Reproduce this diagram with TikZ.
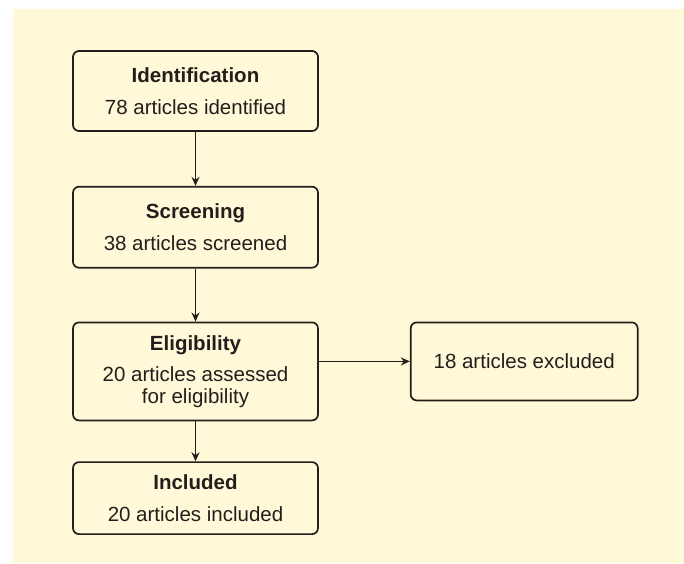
\documentclass[tikz,border=0pt]{standalone}
\usepackage{fontspec}
\setmainfont{Liberation Sans}
\usetikzlibrary{positioning, arrows.meta}
\definecolor{paper}{RGB}{255,249,218}
\definecolor{ink}{RGB}{34,30,26}
\tikzset{
stage/.style={draw=ink, line width=1.7pt, rounded corners=6pt, align=center, minimum width=245pt, inner sep=0pt, text=ink, font=\fontsize{20.5}{22}\selectfont}, % the boxes of the flow
flow/.style={-{Stealth[length=9pt, width=8pt]}, draw=ink, line width=1.6pt}, % arrows between the boxes
}
\newcommand{\stagetext}[2]{\textbf{#1}\\[10pt]#2}

\begin{document}
\begin{tikzpicture}[x=1pt, y=-1pt]
  \useasboundingbox (0,0) rectangle (684,563);
  \fill[paper] (13,9) rectangle (684,563);

  \node[stage, minimum height=80pt] (ident) at (195.5,91) {\stagetext{Identification}{78 articles identified}};
  \node[stage, minimum height=81pt, below=54pt of ident] (screen) {\stagetext{Screening}{38 articles screened}};
  \node[stage, minimum height=98pt, below=53pt of screen] (elig) {\textbf{Eligibility}\\[9pt]20 articles assessed\\for eligibility};
  \node[stage, minimum height=72pt, below=40pt of elig] (incl) {\stagetext{Included}{20 articles included}};
  \node[stage, minimum width=227pt, minimum height=78pt, below right=0pt and 91pt of elig.north east] (excl) {18 articles excluded};

  \draw[flow] (ident) -- (screen);
  \draw[flow] (screen) -- (elig);
  \draw[flow] (elig) -- (incl);
  \draw[flow] (excl.west -| elig.east) -- (excl.west);
\end{tikzpicture}
\end{document}
